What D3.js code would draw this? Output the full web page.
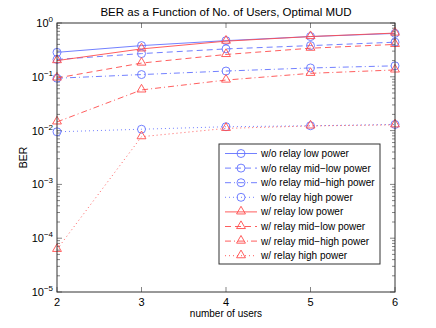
<!DOCTYPE html>
<html lang="en">
  <head>
    <meta charset="UTF-8" />
    <title>BER vs Number of Users</title>
    <script src="https://d3js.org/d3.v7.min.js"></script>
    <style>
      body { margin: 0; background: #fff; }
      text { font-family: "Liberation Sans", Arial, sans-serif; fill: #000; }
    </style>
  </head>
  <body>
    <div id="chart"></div>
    <script>
      // data
      const users = [2, 3, 4, 5, 6];

      const woLow = [0.285, 0.38, 0.47, 0.56, 0.64];
      const woMidLow = [0.21, 0.27, 0.33, 0.38, 0.44];
      const woMidHigh = [0.094, 0.11, 0.128, 0.146, 0.16];
      const woHigh = [0.0095, 0.0106, 0.0118, 0.0123, 0.013];

      const wLow = [0.2, 0.33, 0.46, 0.56, 0.65];
      const wMidLow = [0.095, 0.18, 0.26, 0.34, 0.4];
      const wMidHigh = [0.0145, 0.057, 0.087, 0.116, 0.134];
      const wHigh = [0.000062, 0.0077, 0.011, 0.0122, 0.0128];

      const yTickExps = [0, -1, -2, -3, -4, -5];

      const blue = '#6272ff';
      const red = '#ff4c4c';

      const series = [
        { name: 'w/o relay low power', values: woLow, color: blue, dash: null, marker: 'circle' },
        { name: 'w/o relay mid\u2212low power', values: woMidLow, color: blue, dash: '6,4', marker: 'circle' },
        { name: 'w/o relay mid\u2212high power', values: woMidHigh, color: blue, dash: '6,3,1,3', marker: 'circle' },
        { name: 'w/o relay high power', values: woHigh, color: blue, dash: '1,3', marker: 'circle' },
        { name: 'w/ relay low power', values: wLow, color: red, dash: null, marker: 'triangle' },
        { name: 'w/ relay mid\u2212low power', values: wMidLow, color: red, dash: '6,4', marker: 'triangle' },
        { name: 'w/ relay mid\u2212high power', values: wMidHigh, color: red, dash: '6,3,1,3', marker: 'triangle' },
        { name: 'w/ relay high power', values: wHigh, color: red, dash: '1,3', marker: 'triangle' }
      ];

      const W = 436, H = 328;
      const margin = { top: 23, right: 41, bottom: 36, left: 57 };
      const width = W - margin.left - margin.right;
      const height = H - margin.top - margin.bottom;

      const svg = d3.select('#chart').append('svg')
        .attr('width', W).attr('height', H);

      const g = svg.append('g')
        .attr('transform', `translate(${margin.left},${margin.top})`);

      const x = d3.scaleLinear().domain([2, 6]).range([0, width]);
      const y = d3.scaleLog().domain([1e-5, 1]).range([height, 0]);

      // minor + major ticks, inward, on all four sides
      const minor = [];
      for (let e = -5; e < 0; e++) {
        for (let k = 2; k <= 9; k++) minor.push(k * Math.pow(10, e));
      }
      const ticksG = g.append('g').attr('stroke', '#333').attr('stroke-width', 0.6);
      minor.forEach((v) => {
        ticksG.append('line').attr('x1', 0).attr('x2', 3).attr('y1', y(v)).attr('y2', y(v));
        ticksG.append('line').attr('x1', width).attr('x2', width - 3).attr('y1', y(v)).attr('y2', y(v));
      });
      yTickExps.forEach((e) => {
        const v = Math.pow(10, e);
        ticksG.append('line').attr('x1', 0).attr('x2', 5).attr('y1', y(v)).attr('y2', y(v));
        ticksG.append('line').attr('x1', width).attr('x2', width - 5).attr('y1', y(v)).attr('y2', y(v));
      });
      users.forEach((u) => {
        ticksG.append('line').attr('x1', x(u)).attr('x2', x(u)).attr('y1', height).attr('y2', height - 5);
        ticksG.append('line').attr('x1', x(u)).attr('x2', x(u)).attr('y1', 0).attr('y2', 5);
      });

      // y tick labels with superscripts
      yTickExps.forEach((e) => {
        const t = g.append('text')
          .attr('x', -4).attr('y', y(Math.pow(10, e)) + 4)
          .attr('text-anchor', 'end')
          .style('font-size', '11px');
        t.append('tspan').text('10');
        t.append('tspan').attr('dy', -5).style('font-size', '8px').text(e === 0 ? '0' : '\u2212' + -e);
      });

      users.forEach((u) => {
        g.append('text')
          .attr('x', x(u)).attr('y', height + 14)
          .attr('text-anchor', 'middle')
          .style('font-size', '11px')
          .text(u);
      });

      const line = d3.line()
        .x((d, i) => x(users[i]))
        .y((d) => y(d));

      const tri = d3.symbol().type(d3.symbolTriangle).size(34);

      function drawMarker(sel, type, color) {
        if (type === 'circle') {
          sel.append('circle').attr('r', 4)
            .attr('fill', 'none').attr('stroke', color).attr('stroke-width', 0.9);
        } else {
          sel.append('path').attr('d', tri).attr('transform', 'translate(0,-0.5)')
            .attr('fill', 'none').attr('stroke', color).attr('stroke-width', 0.9);
        }
      }

      series.forEach((s) => {
        g.append('path')
          .datum(s.values)
          .attr('d', line)
          .attr('fill', 'none')
          .attr('stroke', s.color)
          .attr('stroke-width', 0.9)
          .attr('stroke-dasharray', s.dash);
        s.values.forEach((v, i) => {
          const m = g.append('g').attr('transform', `translate(${x(users[i])},${y(v)})`);
          drawMarker(m, s.marker, s.color);
        });
      });

      // axes box
      g.append('rect')
        .attr('width', width).attr('height', height)
        .attr('fill', 'none').attr('stroke', '#333').attr('stroke-width', 1);

      // legend
      const lg = svg.append('g').attr('transform', 'translate(219,144)');
      lg.append('rect')
        .attr('width', 161).attr('height', 120)
        .attr('fill', '#fff').attr('stroke', '#333').attr('stroke-width', 1);
      series.forEach((s, i) => {
        const ly = 9.5 + i * 14.6;
        lg.append('line')
          .attr('x1', 6).attr('x2', 38).attr('y1', ly).attr('y2', ly)
          .attr('stroke', s.color).attr('stroke-width', 0.9)
          .attr('stroke-dasharray', s.dash);
        const m = lg.append('g').attr('transform', `translate(22,${ly})`);
        drawMarker(m, s.marker, s.color);
        lg.append('text')
          .attr('x', 42).attr('y', ly + 3.5)
          .style('font-size', '10px')
          .text(s.name);
      });

      // title and axis labels
      svg.append('text')
        .attr('x', margin.left + width / 2).attr('y', 16)
        .attr('text-anchor', 'middle')
        .style('font-size', '11.5px')
        .text('BER as a Function of No. of Users, Optimal MUD');

      svg.append('text')
        .attr('x', margin.left + width / 2).attr('y', 317)
        .attr('text-anchor', 'middle')
        .style('font-size', '10px')
        .text('number of users');

      svg.append('text')
        .attr('transform', `translate(27,${margin.top + height / 2}) rotate(-90)`)
        .attr('text-anchor', 'middle')
        .style('font-size', '10.5px')
        .text('BER');
    </script>
  </body>
</html>
